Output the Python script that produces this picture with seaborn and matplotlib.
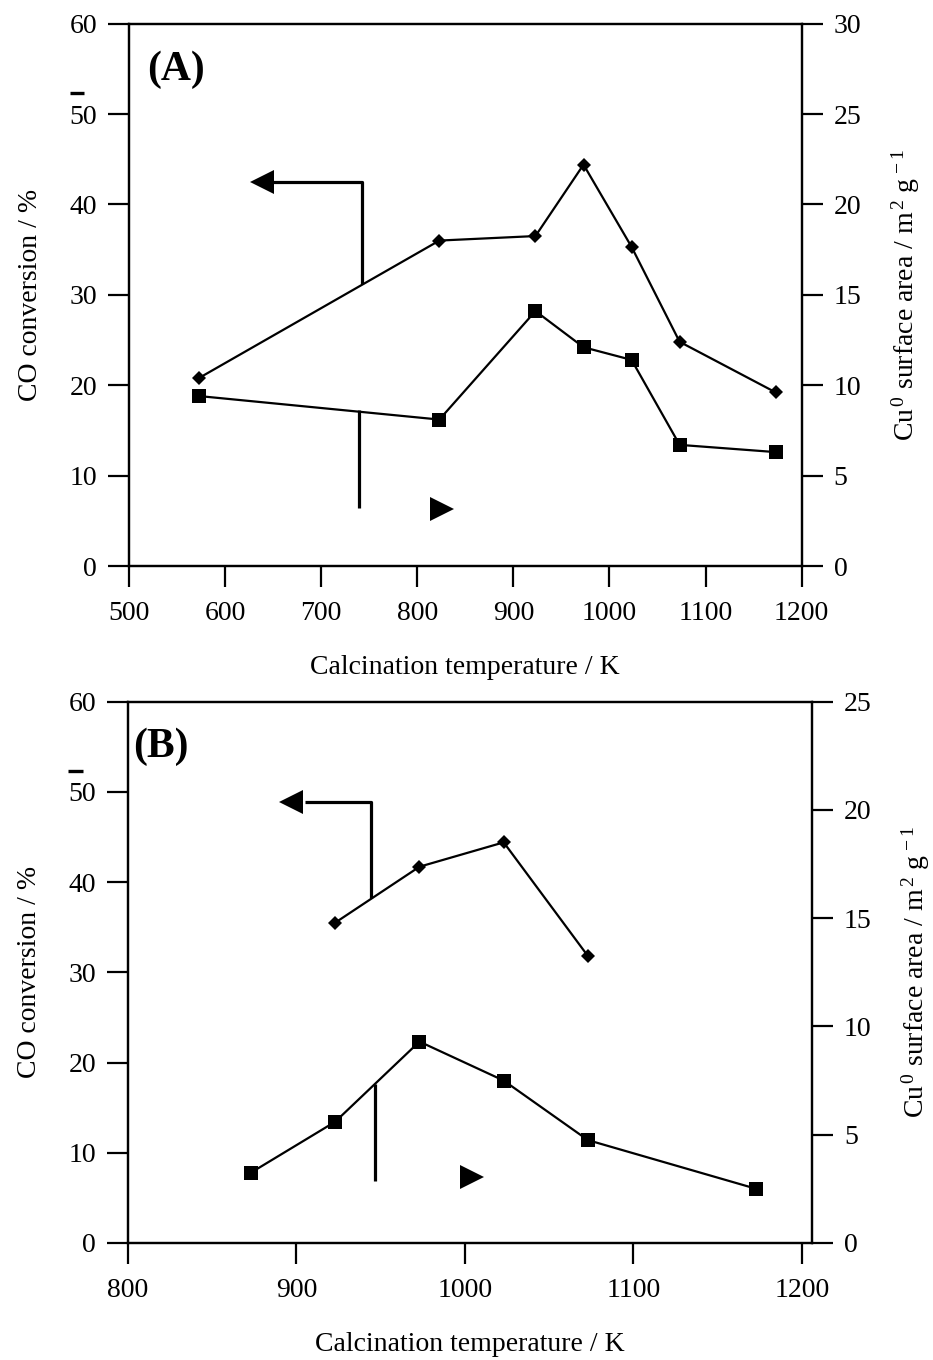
import matplotlib
matplotlib.use("Agg")
import matplotlib.pyplot as plt
import matplotlib.transforms as mtransforms
import seaborn as sns

# Panel (A): calcination series over the full temperature range
temp_a = [573, 823, 923, 973, 1023, 1073, 1173]
co_conv_a = [20.8, 36.0, 36.5, 44.4, 35.3, 24.8, 19.2]
cu_area_a = [9.4, 8.1, 14.1, 12.1, 11.4, 6.7, 6.3]

# Panel (B): second catalyst series
temp_b_co = [923, 973, 1023, 1073]
co_conv_b = [35.5, 41.7, 44.4, 31.8]
temp_b_cu = [873, 923, 973, 1023, 1073, 1173]
cu_area_b = [3.25, 5.6, 9.3, 7.5, 4.75, 2.5]

xticks_a = [500, 600, 700, 800, 900, 1000, 1100, 1200]
xticks_b = [800, 900, 1000, 1100, 1200]
co_ticks = [0, 10, 20, 30, 40, 50, 60]
cu_ticks_a = [0, 5, 10, 15, 20, 25, 30]
cu_ticks_b = [0, 5, 10, 15, 20, 25]

sns.set_style("ticks")
plt.rcParams["font.family"] = ["Liberation Serif", "DejaVu Serif"]
plt.rcParams["mathtext.fontset"] = "custom"
plt.rcParams["mathtext.rm"] = "Liberation Serif"
plt.rcParams["mathtext.it"] = "Liberation Serif:italic"
plt.rcParams["mathtext.bf"] = "Liberation Serif:bold"
plt.rcParams["text.color"] = "black"
plt.rcParams["axes.labelcolor"] = "black"
plt.rcParams["xtick.color"] = "black"
plt.rcParams["ytick.color"] = "black"

FS = 20
SPINE_W = 1.6
DATA_W = 1.6
ARROW_W = 2.3

fig = plt.figure(figsize=(9.33, 13.6), dpi=100)
ax_a = fig.add_axes([0.13816, 0.58382, 0.72111, 0.39882])
ax_b = fig.add_axes([0.13719, 0.08603, 0.73312, 0.39809])


def style_axes(ax, twin, xlim, xticks, cu_lim, cu_ticks):
    ax.set_xlim(*xlim)
    ax.set_xticks(xticks)
    ax.set_ylim(0, 60)
    ax.set_yticks(co_ticks)
    twin.set_ylim(*cu_lim)
    twin.set_yticks(cu_ticks)
    for a in (ax, twin):
        for s in a.spines.values():
            s.set_visible(True)
            s.set_linewidth(SPINE_W)
            s.set_color("black")
        a.tick_params(direction="out", length=15, width=SPINE_W,
                      labelsize=FS, colors="black", labelcolor="black",
                      pad=8)
    ax.tick_params(axis="x", pad=10)
    ax.tick_params(axis="y", right=False)
    twin.tick_params(axis="y", left=False, right=True)
    ax.set_xlabel("Calcination temperature / K", fontsize=FS, labelpad=21,
                  color="black")
    ax.set_ylabel("CO conversion / %", fontsize=FS, labelpad=19,
                  color="black")
    twin.set_ylabel(r"Cu$^{\,0}$ surface area / m$^{\,2}$ g$^{\,-1}$",
                    fontsize=FS, labelpad=20, color="black")
    # short stray bar above the "50" tick label
    tr = mtransforms.blended_transform_factory(ax.transAxes, ax.transData)
    ax.plot([-0.088, -0.066], [52.3, 52.3], transform=tr, clip_on=False,
            color="black", lw=2.4, solid_capstyle="butt")


def draw_series(ax, twin, t_co, co, t_cu, cu):
    sns.lineplot(x=t_co, y=co, ax=ax, color="black", marker="D",
                 markersize=6.8, markeredgewidth=0, linewidth=DATA_W,
                 estimator=None, legend=False)
    sns.lineplot(x=t_cu, y=cu, ax=twin, color="black", marker="s",
                 markersize=10.5, markeredgewidth=0, linewidth=DATA_W,
                 estimator=None, legend=False)


def pointer(ax, xs, ys, head_x, head_y, head):
    ax.plot(xs, ys, color="black", lw=ARROW_W, solid_capstyle="butt")
    ax.plot([head_x], [head_y], marker=head, markersize=17.5,
            markeredgewidth=0, color="black", linestyle="none")


# ---- panel (A)
tw_a = ax_a.twinx()
style_axes(ax_a, tw_a, (500, 1200), xticks_a, (0, 30), cu_ticks_a)
draw_series(ax_a, tw_a, temp_a, co_conv_a, temp_a, cu_area_a)
pointer(ax_a, [650, 742.7, 742.7], [42.5, 42.5, 31.2], 638.4, 42.5, "<")
pointer(ax_a, [739.5, 739.5], [17.3, 6.4], 825.7, 6.35, ">")
ax_a.text(0.027, 0.897, "(A)", transform=ax_a.transAxes, fontsize=30,
          fontweight="bold", ha="left", va="baseline", color="black")

# ---- panel (B)
tw_b = ax_b.twinx()
style_axes(ax_b, tw_b, (800, 1206), xticks_b, (0, 25), cu_ticks_b)
draw_series(ax_b, tw_b, temp_b_co, co_conv_b, temp_b_cu, cu_area_b)
pointer(ax_b, [905, 944.2, 944.2], [48.9, 48.9, 38.2], 896.7, 48.9, "<")
pointer(ax_b, [946.4, 946.4], [17.6, 6.9], 1004.3, 7.3, ">")
ax_b.text(0.008, 0.898, "(B)", transform=ax_b.transAxes, fontsize=30,
          fontweight="bold", ha="left", va="baseline", color="black")

fig.savefig("out.png", dpi=100)
